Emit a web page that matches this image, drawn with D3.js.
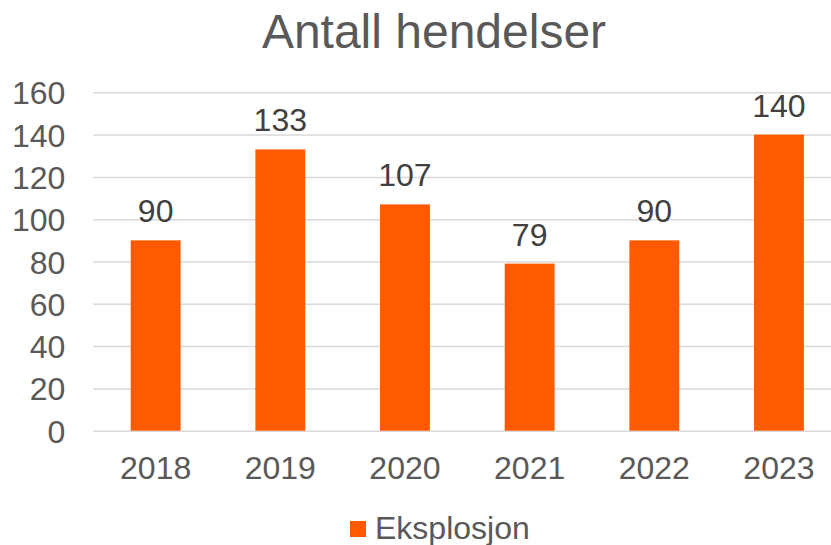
<!DOCTYPE html>
<html>
<head>
<meta charset="utf-8">
<script src="https://cdn.jsdelivr.net/npm/d3@7"></script>
<style>
  html, body { margin: 0; padding: 0; background: #ffffff; overflow: hidden; }
  svg { display: block; font-family: "Liberation Sans", Arial, sans-serif; }
</style>
</head>
<body>
<svg id="chart" width="831" height="545"></svg>
<script>
const title = "Antall hendelser";
const categories = ["2018", "2019", "2020", "2021", "2022", "2023"];
const seriesName = "Eksplosjon";
const values = [90, 133, 107, 79, 90, 140];
const yTicks = [0, 20, 40, 60, 80, 100, 120, 140, 160];

const W = 831, H = 545;
const textColor = "#595959";
const gridColor = "#d9d9d9";
const barColor = "#ff5a00";

const svg = d3.select("#chart");
const plot = { left: 93.3, right: 841.3, top: 92.3, bottom: 430.7 };

const x = d3.scaleBand()
  .domain(categories)
  .range([plot.left, plot.right])
  .paddingInner(0.6)
  .paddingOuter(0.3);

const y = d3.scaleLinear()
  .domain([0, 160])
  .range([plot.bottom, plot.top]);

// Title
svg.append("text")
  .attr("x", 434)
  .attr("y", 48)
  .attr("text-anchor", "middle")
  .attr("font-size", 48)
  .attr("fill", textColor)
  .text(title);

// Gridlines
const yAxis = d3.axisLeft(y)
  .tickValues(yTicks)
  .tickSize(-(plot.right - plot.left))
  .tickPadding(28)
  .tickFormat(d3.format("d"));

const gy = svg.append("g")
  .attr("transform", `translate(${plot.left},0)`)
  .call(yAxis);
gy.select(".domain").remove();
gy.selectAll(".tick line")
  .attr("stroke", gridColor)
  .attr("stroke-width", 1.5);
gy.selectAll(".tick text")
  .attr("font-size", 32)
  .attr("fill", textColor)
  .attr("font-family", "Liberation Sans, Arial, sans-serif")
  .attr("dy", "0.36em");

// Bars
svg.append("g")
  .selectAll("rect")
  .data(values)
  .join("rect")
  .attr("x", (d, i) => x(categories[i]))
  .attr("y", d => y(d))
  .attr("width", x.bandwidth())
  .attr("height", d => y(0) - y(d))
  .attr("fill", barColor);

// Data labels
svg.append("g")
  .selectAll("text")
  .data(values)
  .join("text")
  .attr("x", (d, i) => x(categories[i]) + x.bandwidth() / 2)
  .attr("y", d => y(d) - 18)
  .attr("text-anchor", "middle")
  .attr("font-size", 32)
  .attr("fill", "#404040")
  .text(d => d);

// X axis labels
const xAxis = d3.axisBottom(x).tickSize(0).tickPadding(0);
const gx = svg.append("g")
  .attr("transform", `translate(0,${plot.bottom})`)
  .call(xAxis);
gx.select(".domain").remove();
gx.selectAll(".tick text")
  .attr("font-size", 32)
  .attr("fill", textColor)
  .attr("font-family", "Liberation Sans, Arial, sans-serif")
  .attr("y", 48.6)
  .attr("dy", 0);

// Legend
const legend = svg.append("g");
legend.append("rect")
  .attr("x", 350)
  .attr("y", 521)
  .attr("width", 16)
  .attr("height", 16)
  .attr("fill", barColor);
legend.append("text")
  .attr("x", 375)
  .attr("y", 539)
  .attr("font-size", 32)
  .attr("fill", textColor)
  .text(seriesName);
</script>
</body>
</html>
